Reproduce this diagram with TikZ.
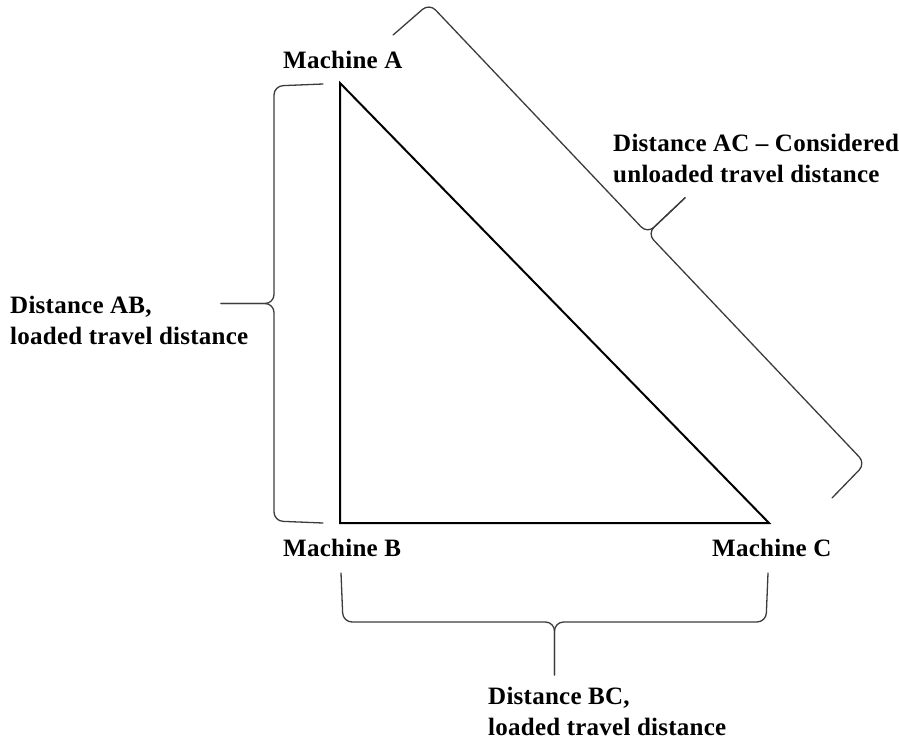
\documentclass[tikz,border=0pt]{standalone}
\usepackage{fontspec}
\setmainfont{Liberation Serif}[LetterSpace=1]
\definecolor{bracegray}{HTML}{3C3C3C}
\tikzset{
  edge/.style={line width=2pt, line join=miter},
  bracestyle/.style={draw=bracegray, line width=1.3pt, rounded corners=9pt, line cap=round},
  lbl/.style={inner sep=0pt, anchor=base west, align=left,
    font=\fontsize{25}{30.5}\selectfont\bfseries},
  % curly brace: length / offset of the spine / length of the middle prong
  pics/curlybrace/.style n args={3}{code={
    \draw[bracestyle] (0,0) -- (2,#2) -- ({#1/2},#2) -- ({#1/2},{#2+#3});
    \draw[bracestyle] (#1,0) -- ({#1-2},#2) -- ({#1/2},#2) -- ({#1/2},{#2+#3});
  }}
}
\begin{document}
\begin{tikzpicture}[x=1pt, y=-1pt]
  \useasboundingbox[fill=white] (0,0) rectangle (899,744);

  % machines at the corners of the triangle
  \coordinate (A) at (340,83);
  \coordinate (B) at (340,523);
  \coordinate (C) at (769,523);
  \draw[edge] (A) -- (B) -- (C) -- cycle;

  \node[lbl] (labA) at (283,68)  {Machine A};
  \node[lbl] (labB) at (283,556) {Machine B};
  \node[lbl] (labC) at (712,556) {Machine C};

  % braces along the three sides
  \coordinate (braceAB) at (323,84);
  \coordinate (braceBC) at (341,573);
  \coordinate (braceAC) at (832,498);
  \pic[rotate=-90] at (braceAB) {curlybrace={439}{49}{53}};
  \pic at (braceBC) {curlybrace={427}{49}{53}};
  \pic[rotate=133.47] at (braceAC) {curlybrace={638}{48}{52}};

  \node[lbl] (distAB) at (10,344)  {Distance AB,\\loaded travel distance};
  \node[lbl] (distBC) at (488,735) {Distance BC,\\loaded travel distance};
  \node[lbl] (distAC) at (613,182) {Distance AC -- Considered\\unloaded travel distance};
\end{tikzpicture}
\end{document}
